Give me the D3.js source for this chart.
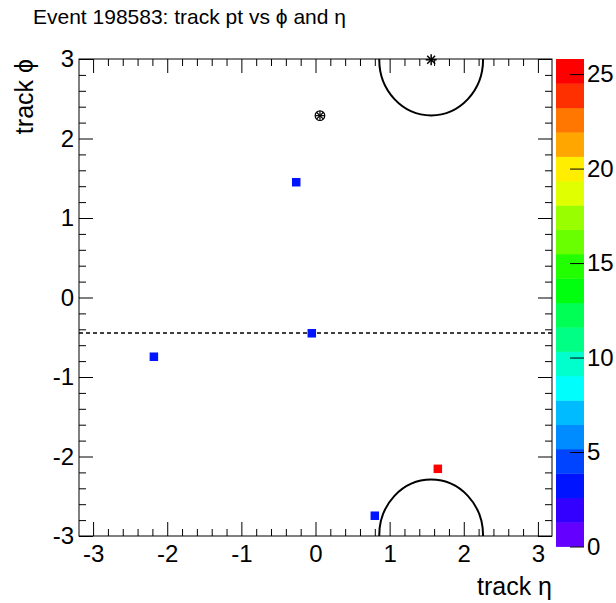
<!DOCTYPE html>
<html>
<head>
<meta charset="utf-8">
<script src="https://cdn.jsdelivr.net/npm/d3@7"></script>
<style>
  body { margin: 0; background: #fff; }
  svg text { font-family: "Liberation Sans", Arial, Helvetica, sans-serif; fill: #000; }
</style>
</head>
<body>
<svg id="chart" width="616" height="603"></svg>
<script>
// Reconstructed tracks: pseudorapidity, azimuth and transverse momentum
const trackEta = [-0.26, -0.05, -2.18, 1.65, 0.80];
const trackPhi = [1.45, -0.45, -0.745, -2.155, -2.745];
const trackPt  = [3.2, 3.0, 3.4, 25.8, 2.9];

// Jets (cone of radius R drawn around each axis)
const jetEta = [1.56, 1.56];
const jetPhi = [2.99, -2.99];
const jetR   = 0.7;
const jetAxisEta = [1.56];
const jetAxisPhi = [2.99];

// Other reconstructed objects
const objEta = [0.06];
const objPhi = [2.287];
const metPhi = [-0.447];

// Axis ranges and tick labels
const etaRange = [-3.19, 3.19];
const phiRange = [-3, 3];
const etaTicks = [-3, -2, -1, 0, 1, 2, 3];
const phiTicks = [-3, -2, -1, 0, 1, 2, 3];
const ptMax = 25.8;
const ptTicks = [0, 5, 10, 15, 20, 25];
const nContours = 20;

const svg = d3.select("#chart");
const W = 616, H = 603;
svg.append("rect").attr("width", W).attr("height", H).attr("fill", "#fff");

const fr = { left: 79, right: 552, top: 59, bottom: 536 };
const x = d3.scaleLinear().domain(etaRange).range([fr.left, fr.right]);
const y = d3.scaleLinear().domain(phiRange).range([fr.bottom, fr.top]);

// Rainbow palette: 50 hues from violet to red, picked per contour level
const paletteHue = i => 280 - (i + 1) * (280 / 50);
const contourColor = j => {
  const idx = Math.floor((j + 0.99) * 50 / nContours);
  return d3.hsl(paletteHue(idx), 1, 0.5).formatHex();
};
const zStep = ptMax / nContours;
const colorOf = v => contourColor(Math.min(nContours - 1, Math.max(0, Math.floor(v / zStep))));

const TITLE_FS = 21, LABEL_FS = 24, AXTITLE_FS = 25;
const majorLen = 14, minorLen = 7;
const minorVals = (lo, hi) => d3.range(Math.ceil(lo / 0.2 - 1e-6), Math.floor(hi / 0.2 + 1e-6) + 1)
  .map(k => +(k * 0.2).toFixed(2)).filter(v => Math.abs(v - Math.round(v)) > 1e-6);

svg.append("defs").append("clipPath").attr("id", "frameClip")
  .append("rect").attr("x", fr.left).attr("y", fr.top)
  .attr("width", fr.right - fr.left).attr("height", fr.bottom - fr.top);

const styleAxis = g => {
  g.select(".domain").remove();
  g.selectAll("line").attr("stroke", "#000").attr("stroke-width", 1);
  g.selectAll("text").attr("font-size", LABEL_FS)
    .attr("font-family", "Liberation Sans, Arial, sans-serif").attr("fill", "#000");
};
const fmt = d => String(d);

// bottom axis
svg.append("g").attr("transform", `translate(0,${fr.bottom})`)
  .call(d3.axisBottom(x).tickValues(etaTicks).tickFormat(fmt).tickSize(-majorLen).tickPadding(9))
  .call(styleAxis);
svg.append("g").attr("transform", `translate(0,${fr.bottom})`)
  .call(d3.axisBottom(x).tickValues(minorVals(etaRange[0], etaRange[1])).tickFormat("").tickSize(-minorLen))
  .call(styleAxis);
// top axis
svg.append("g").attr("transform", `translate(0,${fr.top})`)
  .call(d3.axisTop(x).tickValues(etaTicks).tickFormat("").tickSize(-majorLen))
  .call(styleAxis);
svg.append("g").attr("transform", `translate(0,${fr.top})`)
  .call(d3.axisTop(x).tickValues(minorVals(etaRange[0], etaRange[1])).tickFormat("").tickSize(-minorLen))
  .call(styleAxis);
// left axis
svg.append("g").attr("transform", `translate(${fr.left},0)`)
  .call(d3.axisLeft(y).tickValues(phiTicks).tickFormat(fmt).tickSize(-majorLen).tickPadding(5))
  .call(styleAxis);
svg.append("g").attr("transform", `translate(${fr.left},0)`)
  .call(d3.axisLeft(y).tickValues(minorVals(phiRange[0], phiRange[1])).tickFormat("").tickSize(-minorLen))
  .call(styleAxis);
// right axis
svg.append("g").attr("transform", `translate(${fr.right},0)`)
  .call(d3.axisRight(y).tickValues(phiTicks).tickFormat("").tickSize(-majorLen))
  .call(styleAxis);
svg.append("g").attr("transform", `translate(${fr.right},0)`)
  .call(d3.axisRight(y).tickValues(minorVals(phiRange[0], phiRange[1])).tickFormat("").tickSize(-minorLen))
  .call(styleAxis);

// frame
svg.append("rect").attr("x", fr.left).attr("y", fr.top)
  .attr("width", fr.right - fr.left).attr("height", fr.bottom - fr.top)
  .attr("fill", "none").attr("stroke", "#000").attr("stroke-width", 1);

const plot = svg.append("g").attr("clip-path", "url(#frameClip)");

// missing-ET direction
plot.selectAll("line.met").data(metPhi).join("line").attr("class", "met")
  .attr("x1", fr.left).attr("x2", fr.right)
  .attr("y1", d => y(d)).attr("y2", d => y(d))
  .attr("stroke", "#000").attr("stroke-width", 1.5).attr("stroke-dasharray", "4,3");

// jet cones
plot.selectAll("ellipse.jet").data(jetEta).join("ellipse").attr("class", "jet")
  .attr("cx", d => x(d)).attr("cy", (d, i) => y(jetPhi[i]))
  .attr("rx", x(jetR) - x(0)).attr("ry", y(0) - y(jetR))
  .attr("fill", "none").attr("stroke", "#000").attr("stroke-width", 2);

// jet axes (asterisk markers)
jetAxisEta.forEach((e, i) => {
  const cx = x(e), cy = y(jetAxisPhi[i]), r = 5.5, d = r * 0.72;
  const g = svg.append("g").attr("stroke", "#000").attr("stroke-width", 1.5);
  g.append("line").attr("x1", cx - r).attr("x2", cx + r).attr("y1", cy).attr("y2", cy);
  g.append("line").attr("x1", cx).attr("x2", cx).attr("y1", cy - r).attr("y2", cy + r);
  g.append("line").attr("x1", cx - d).attr("x2", cx + d).attr("y1", cy - d).attr("y2", cy + d);
  g.append("line").attr("x1", cx - d).attr("x2", cx + d).attr("y1", cy + d).attr("y2", cy - d);
});

// other objects (circled cross markers)
objEta.forEach((e, i) => {
  const cx = x(e), cy = y(objPhi[i]), r = 4.8, d = r * 0.72;
  const g = svg.append("g").attr("stroke", "#000").attr("stroke-width", 1.2).attr("fill", "none");
  g.append("circle").attr("cx", cx).attr("cy", cy).attr("r", r);
  g.append("line").attr("x1", cx - r).attr("x2", cx + r).attr("y1", cy).attr("y2", cy);
  g.append("line").attr("x1", cx).attr("x2", cx).attr("y1", cy - r).attr("y2", cy + r);
  g.append("line").attr("x1", cx - d).attr("x2", cx + d).attr("y1", cy - d).attr("y2", cy + d);
  g.append("line").attr("x1", cx - d).attr("x2", cx + d).attr("y1", cy + d).attr("y2", cy - d);
});

// tracks, coloured by pt
const sq = 8.5;
plot.selectAll("rect.trk").data(trackEta).join("rect").attr("class", "trk")
  .attr("x", d => x(d) - sq / 2).attr("y", (d, i) => y(trackPhi[i]) - sq / 2)
  .attr("width", sq).attr("height", sq)
  .attr("fill", (d, i) => colorOf(trackPt[i]));

// colour palette
const pal = { left: 556, right: 584, top: 59, bottom: 546.5 };
const z = d3.scaleLinear().domain([0, ptMax]).range([pal.bottom, pal.top]);
svg.append("g").selectAll("rect").data(d3.range(nContours)).join("rect")
  .attr("x", pal.left).attr("width", pal.right - pal.left)
  .attr("y", j => z((j + 1) * zStep)).attr("height", j => z(j * zStep) - z((j + 1) * zStep) + 0.4)
  .attr("fill", j => contourColor(j));
svg.append("g").attr("transform", `translate(${pal.right},0)`)
  .call(d3.axisRight(z).tickValues(ptTicks).tickFormat(fmt).tickSize(-14).tickPadding(3))
  .call(styleAxis);

// titles
svg.append("text").attr("x", 33).attr("y", 24).attr("font-size", TITLE_FS)
  .text("Event 198583: track pt vs \u03D5 and \u03B7");
svg.append("text").attr("x", fr.right).attr("y", 595).attr("text-anchor", "end").attr("font-size", AXTITLE_FS)
  .text("track \u03B7");
svg.append("text").attr("transform", `translate(33,${fr.top}) rotate(-90)`)
  .attr("text-anchor", "end").attr("font-size", AXTITLE_FS)
  .text("track \u03D5");
</script>
</body>
</html>
